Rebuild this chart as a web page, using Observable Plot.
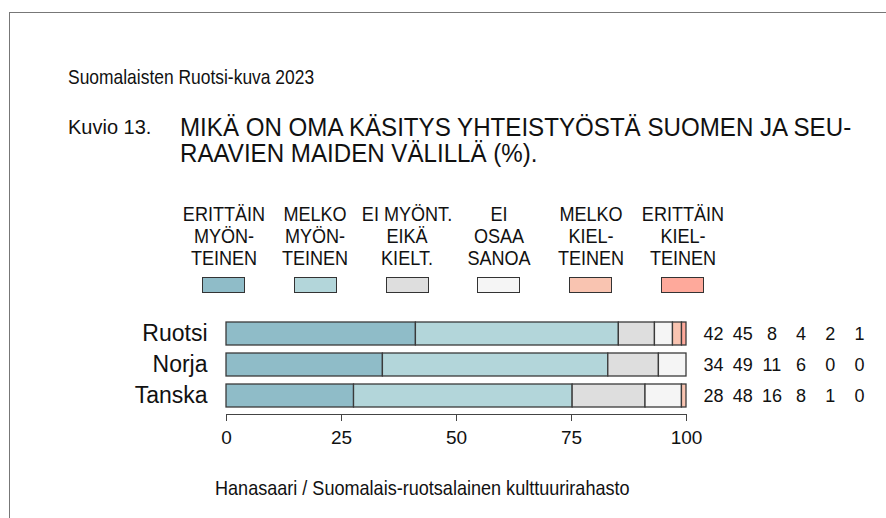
<!DOCTYPE html>
<html>
<head>
<meta charset="utf-8">
<script src="https://cdn.jsdelivr.net/npm/d3@7"></script>
<script src="https://cdn.jsdelivr.net/npm/@observablehq/plot@0.6"></script>
<style>
  html, body { margin: 0; padding: 0; background: #fff; }
  #page { position: relative; width: 886px; height: 518px; overflow: hidden; color: #111;
          font-family: "Liberation Sans", Arial, sans-serif; }
  #frame { position: absolute; left: 9px; top: 12px; width: 900px; height: 600px;
           border-top: 1px solid #777; border-left: 1px solid #777; }
  .t { position: absolute; white-space: nowrap; transform-origin: left center; }
  .leg { position: absolute; width: 160px; text-align: center; font-size: 21px; line-height: 22px;
         white-space: nowrap; transform: scaleX(0.86); transform-origin: center center; }
  .sw { position: absolute; width: 41px; height: 14px; border: 1px solid #333; }
  #chart { position: absolute; left: 0; top: 295px; }
</style>
</head>
<body>
<div id="page">
  <div id="frame"></div>
  <div class="t" id="title" style="left:68px; top:64px; font-size:21px; line-height:26px; transform:scaleX(0.83);">Suomalaisten Ruotsi-kuva 2023</div>
  <div class="t" id="kuvio" style="left:68px; top:114px; font-size:20px; line-height:26px;">Kuvio 13.</div>
  <div class="t" id="heading1" style="left:180px; top:114px; font-size:25px; line-height:26px; transform:scaleX(0.965);">MIKÄ ON OMA KÄSITYS YHTEISTYÖSTÄ SUOMEN JA SEU-</div>
  <div class="t" id="heading2" style="left:180px; top:140px; font-size:25px; line-height:26px; transform:scaleX(0.965);">RAAVIEN MAIDEN VÄLILLÄ (%).</div>
  <div id="legend"></div>
  <div id="chart"></div>
  <div class="t" id="footer" style="left:215px; top:475px; font-size:21px; line-height:26px; transform:scaleX(0.86);">Hanasaari / Suomalais-ruotsalainen kulttuurirahasto</div>
</div>
<script>
// ---- data ----
const countries = ["Ruotsi", "Norja", "Tanska"];
const categories = ["Erittäin myönteinen", "Melko myönteinen", "Ei myönt. eikä kielt.", "Ei osaa sanoa", "Melko kielteinen", "Erittäin kielteinen"];
const legendLabels = [
  ["ERITTÄIN", "MYÖN-", "TEINEN"],
  ["MELKO", "MYÖN-", "TEINEN"],
  ["EI MYÖNT.", "EIKÄ", "KIELT."],
  ["EI", "OSAA", "SANOA"],
  ["MELKO", "KIEL-", "TEINEN"],
  ["ERITTÄIN", "KIEL-", "TEINEN"]
];
const colors = ["#8fbcc8", "#b3d6da", "#dedede", "#f5f5f5", "#f9c4b1", "#fea99b"];
const ruotsi = [42, 45, 8, 4, 2, 1];
const norja = [34, 49, 11, 6, 0, 0];
const tanska = [28, 48, 16, 8, 1, 0];
const xTicks = [0, 25, 50, 75, 100];

// ---- derived table ----
const series = [ruotsi, norja, tanska];
const rowsByCountry = countries.map((c, k) => ({country: c, values: series[k]}));
const rows = [];
rowsByCountry.forEach(r => {
  const sum = d3.sum(r.values);
  r.values.forEach((v, i) => {
    if (v > 0) rows.push({country: r.country, category: categories[i], value: v, share: v / sum * 100});
  });
});

// ---- legend (HTML) ----
const legend = document.getElementById("legend");
legendLabels.forEach((lines, i) => {
  const cx = 223.5 + i * 91.8;
  const lab = document.createElement("div");
  lab.className = "leg";
  lab.style.left = (cx - 80) + "px";
  lab.style.top = "203px";
  lab.innerHTML = lines.join("<br>");
  legend.appendChild(lab);
  const sw = document.createElement("div");
  sw.className = "sw";
  sw.style.left = (cx - 21.5) + "px";
  sw.style.top = "277px";
  sw.style.background = colors[i];
  legend.appendChild(sw);
});

// ---- chart ----
const chart = Plot.plot({
  width: 886,
  height: 160,
  marginLeft: 226,
  marginRight: 200,
  marginTop: 20,
  marginBottom: 41,
  x: {domain: [0, 100], axis: null},
  y: {domain: countries, paddingInner: 0.27, paddingOuter: 0.19, axis: null},
  color: {domain: categories, range: colors},
  style: {fontFamily: "'Liberation Sans', Arial, sans-serif", fontSize: "19px", color: "#111", background: "transparent"},
  marks: [
    Plot.frame({anchor: "bottom", stroke: "#444", strokeWidth: 1}),
    Plot.axisX({ticks: xTicks, tickSize: 7, tickPadding: 9, fontSize: 19, stroke: "#444", label: null, tickFormat: d => d}),
    Plot.barX(rows, Plot.stackX({x: "share", y: "country", fill: "category", stroke: "#3a3a3a", strokeWidth: 1.3})),
    Plot.text(countries, {x: () => 0, y: d => d, text: d => d, textAnchor: "end", dx: -19, fontSize: 23, fill: "#111"}),
    ...categories.map((c, i) => Plot.text(rowsByCountry, {
      x: () => 100, y: "country", text: d => d.values[i], dx: 27 + 29.2 * i, fontSize: 18, fill: "#111"
    }))
  ]
});
document.getElementById("chart").appendChild(chart);
</script>
</body>
</html>
